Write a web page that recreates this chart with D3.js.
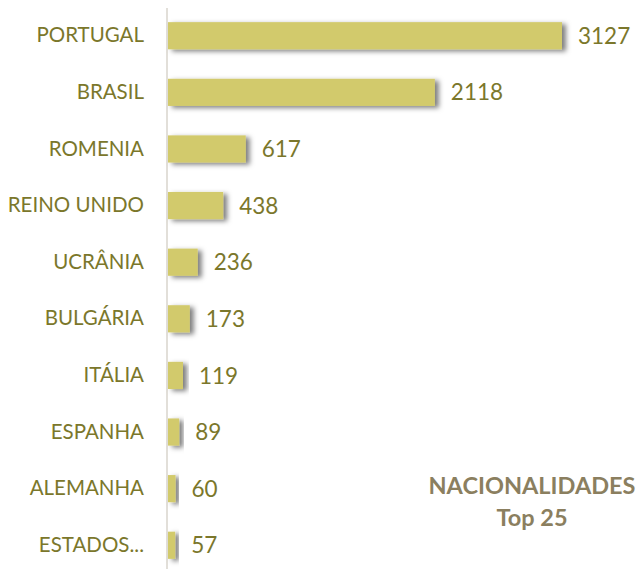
<!DOCTYPE html>
<html>
<head>
<meta charset="utf-8">
<script src="https://cdn.jsdelivr.net/npm/d3@7"></script>
<style>
  body { margin: 0; background: #fff; }
  text { font-family: Lato, "Open Sans", sans-serif; }
</style>
</head>
<body>
<div id="chart"></div>
<script>
const countries = ['PORTUGAL', 'BRASIL', 'ROMENIA', 'REINO UNIDO', 'UCRÂNIA', 'BULGÁRIA', 'ITÁLIA', 'ESPANHA', 'ALEMANHA', 'ESTADOS...'];
const counts = [3127, 2118, 617, 438, 236, 173, 119, 89, 60, 57];
const titleLines = ['NACIONALIDADES', 'Top 25'];

const width = 639, height = 569;
const margin = {top: 8, left: 168, right: 77, bottom: -4};

const svg = d3.select('#chart').append('svg')
  .attr('width', width)
  .attr('height', height);

// Shadow behind bars
const defs = svg.append('defs');
defs.append('filter')
  .attr('id', 'shadow')
  .attr('x', '-20%').attr('y', '-30%')
  .attr('width', '160%').attr('height', '180%')
  .append('feDropShadow')
    .attr('dx', 4).attr('dy', 2)
    .attr('stdDeviation', 2.5)
    .attr('flood-color', '#000')
    .attr('flood-opacity', 0.5);

// X scale
const x = d3.scaleLinear()
  .domain([0, 3127])
  .range([margin.left, 562]);

// Y scale
const y = d3.scaleBand()
  .domain(countries)
  .range([margin.top, height - margin.bottom])
  .paddingInner(0.52)
  .paddingOuter(0.25);

// Y axis
const yAxis = svg.append('g')
  .attr('transform', 'translate(' + (margin.left - 1) + ',0)')
  .call(d3.axisLeft(y).tickSize(0).tickPadding(23));
yAxis.select('.domain')
  .attr('d', 'M0,' + margin.top + 'V' + height)
  .attr('stroke', '#d9d4cc')
  .attr('stroke-width', 1.5);
yAxis.selectAll('text')
  .attr('fill', '#7b772b')
  .style('font-size', '20.5px');

// Bars
const rows = countries.map((c, i) => ({country: c, value: counts[i]}));
svg.append('g')
  .selectAll('rect')
  .data(rows)
  .enter().append('rect')
    .attr('x', x(0))
    .attr('y', d => y(d.country))
    .attr('width', d => x(d.value) - x(0))
    .attr('height', y.bandwidth())
    .attr('fill', '#d2ca6c')
    .attr('filter', 'url(#shadow)');

// Value labels
svg.append('g')
  .selectAll('text')
  .data(rows)
  .enter().append('text')
    .attr('x', d => x(d.value) + 16)
    .attr('y', d => y(d.country) + y.bandwidth() / 2)
    .attr('dy', '0.36em')
    .attr('fill', '#7b772b')
    .style('font-size', '22.5px')
    .text(d => d.value);

// Title
svg.append('text')
  .attr('x', 532)
  .attr('y', 494)
  .attr('text-anchor', 'middle')
  .attr('fill', '#8b7f5f')
  .style('font-size', '23.5px')
  .style('font-weight', 'bold')
  .selectAll('tspan')
  .data(titleLines)
  .enter().append('tspan')
    .attr('x', 532)
    .attr('dy', (d, i) => i === 0 ? 0 : 32)
    .text(d => d);
</script>
</body>
</html>
